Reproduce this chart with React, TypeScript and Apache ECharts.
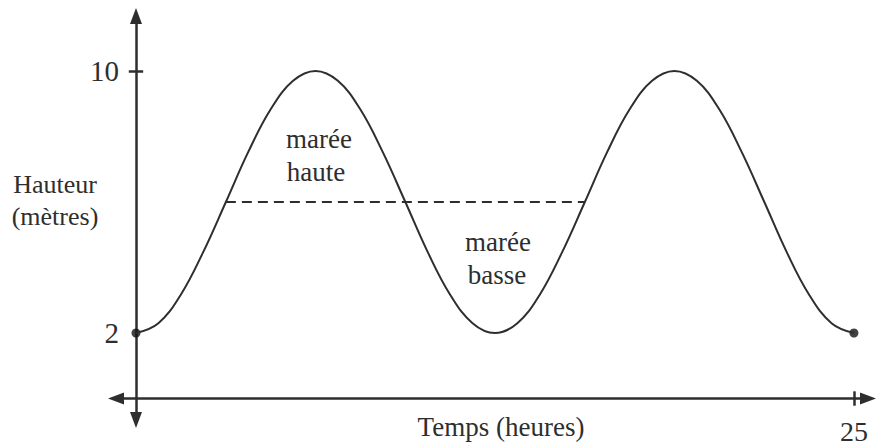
import React, { useEffect, useRef } from "react";
import * as echarts from "echarts";

// Temps (heures)
const hours = [
  0, 0.78, 1.56, 2.34, 3.13, 3.91, 4.69, 5.47, 6.25, 7.03, 7.81, 8.59, 9.38,
  10.16, 10.94, 11.72, 12.5, 13.28, 14.06, 14.84, 15.63, 16.41, 17.19, 17.97,
  18.75, 19.53, 20.31, 21.09, 21.88, 22.66, 23.44, 24.22, 25,
];
// Hauteur (mètres)
const heights = [
  2, 2.3, 3.17, 4.47, 6, 7.53, 8.83, 9.7, 10, 9.7, 8.83, 7.53, 6, 4.47, 3.17,
  2.3, 2, 2.3, 3.17, 4.47, 6, 7.53, 8.83, 9.7, 10, 9.7, 8.83, 7.53, 6, 4.47,
  3.17, 2.3, 2,
];
// dashed threshold line (start/end hours, level)
const thresholdHours = [3.13, 15.63];
const thresholdLevel = 6;
// end points marked with dots
const endHours = [0, 25];
const endLevel = 2;
// tick labels
const yTickValues = [2, 10];
const xTickValues = [25];

const FAMILY = "'Liberation Serif', 'Times New Roman', serif";
const INK = "#2e2e2e";

export default function App() {
  const ref = useRef<HTMLDivElement>(null);

  useEffect(() => {
    if (!ref.current) return;
    const chart = echarts.init(ref.current, null, { renderer: "svg" });

    const curve = hours.map((t, i) => [t, heights[i]]);
    const dashed = thresholdHours.map((t) => [t, thresholdLevel]);
    const dots = endHours.map((t) => [t, endLevel]);

    const text = (t: string, x: number, y: number, size = 27) => ({
      type: "text",
      x,
      y,
      silent: true,
      style: {
        text: t,
        fill: INK,
        font: `${size}px ${FAMILY}`,
        fontSize: size,
        fontFamily: FAMILY,
        textAlign: "center",
        textVerticalAlign: "middle",
      },
    });

    chart.setOption({
      animation: false,
      backgroundColor: "#ffffff",
      grid: {
        left: 116,
        right: 10,
        top: 16,
        bottom: 27,
        containLabel: false,
        outerBoundsMode: "none",
      },
      xAxis: {
        type: "value",
        min: -0.696,
        max: 25.49,
        splitLine: { show: false },
        axisLine: {
          onZero: true,
          symbol: ["triangle", "triangle"],
          symbolSize: [12, 16],
          lineStyle: { color: INK, width: 2.5 },
        },
        axisTick: { show: false },
        axisLabel: {
          customValues: xTickValues,
          margin: -3,
          fontSize: 28,
          fontFamily: FAMILY,
          color: INK,
        },
      },
      yAxis: {
        type: "value",
        min: -0.656,
        max: 11.68,
        splitLine: { show: false },
        axisLine: {
          onZero: true,
          symbol: ["triangle", "triangle"],
          symbolSize: [12, 16],
          lineStyle: { color: INK, width: 2.5 },
        },
        axisTick: { show: false },
        axisLabel: {
          customValues: yTickValues,
          margin: -3,
          fontSize: 29,
          fontFamily: FAMILY,
          color: INK,
        },
      },
      series: [
        {
          type: "line",
          data: curve,
          smooth: 0.4,
          showSymbol: false,
          lineStyle: { color: INK, width: 2 },
          markLine: {
            silent: true,
            symbol: "none",
            label: { show: false },
            lineStyle: { color: INK, width: 2.5, type: "solid" },
            data: [
              [{ coord: [-0.25, 10] }, { coord: [0.25, 10] }],
              [{ coord: [25, -0.22] }, { coord: [25, 0.22] }],
            ],
          },
        },
        {
          type: "line",
          data: dashed,
          showSymbol: false,
          lineStyle: { color: INK, width: 2, type: [10, 6] },
        },
        {
          type: "scatter",
          data: dots,
          symbolSize: 9,
          itemStyle: { color: "#111" },
        },
      ],
      graphic: [
        text("Hauteur", 55, 184, 26),
        text("(mètres)", 55, 216, 26),
        text("Temps (heures)", 501, 427, 27),
        text("marée", 319, 139),
        text("haute", 316, 172),
        text("marée", 498, 242),
        text("basse", 497, 275),
      ],
    });

    return () => chart.dispose();
  }, []);

  return (
    <div
      ref={ref}
      style={{ position: "fixed", left: 0, top: 0, width: 878, height: 447 }}
    />
  );
}
